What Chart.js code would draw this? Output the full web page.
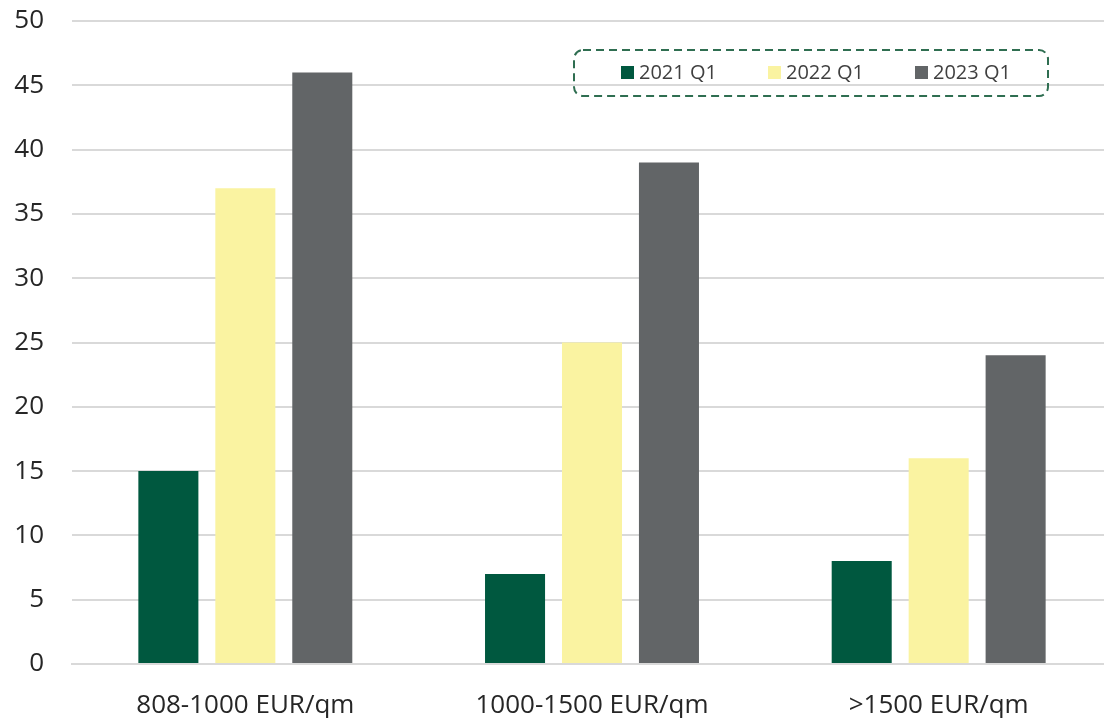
<!DOCTYPE html>
<html>
<head>
<meta charset="utf-8">
<script src="https://cdn.jsdelivr.net/npm/chart.js@4/dist/chart.umd.min.js"></script>
<style>
html,body{margin:0;padding:0;background:#fff;overflow:hidden;}
#wrap{width:1112px;height:718px;position:relative;}
</style>
</head>
<body>
<div id="wrap"><canvas id="c"></canvas></div>
<script>
const categories = ["808-1000 EUR/qm", "1000-1500 EUR/qm", ">1500 EUR/qm"];
const seriesLabels = ["2021 Q1", "2022 Q1", "2023 Q1"];
const values2021 = [15, 7, 8];
const values2022 = [37, 25, 16];
const values2023 = [46, 39, 24];
const yTicks = [0, 5, 10, 15, 20, 25, 30, 35, 40, 45, 50];

const colors = ["#00583f", "#faf3a1", "#626567"];
const FONT = "'Open Sans', 'DejaVu Sans', sans-serif";

const boxLegend = {
  id: 'boxLegend',
  afterDraw(chart) {
    const ctx = chart.ctx;
    const x = 574, y = 50, w = 474, h = 46, r = 9;
    ctx.save();
    ctx.setLineDash([8, 5]);
    ctx.lineWidth = 2;
    ctx.strokeStyle = '#2f6e51';
    ctx.beginPath();
    ctx.roundRect(x, y, w, h, r);
    ctx.stroke();
    ctx.setLineDash([]);
    ctx.font = "20px " + FONT;
    ctx.textBaseline = 'middle';
    const starts = [621, 768, 915];
    chart.data.datasets.forEach((ds, i) => {
      ctx.fillStyle = ds.backgroundColor;
      ctx.fillRect(starts[i], 66, 13, 13);
      ctx.fillStyle = '#404040';
      ctx.fillText(ds.label, starts[i] + 18, 73);
    });
    ctx.restore();
  }
};

new Chart(document.getElementById('c'), {
  type: 'bar',
  data: {
    labels: categories,
    datasets: [
      { label: seriesLabels[0], data: values2021, backgroundColor: colors[0] },
      { label: seriesLabels[1], data: values2022, backgroundColor: colors[1] },
      { label: seriesLabels[2], data: values2023, backgroundColor: colors[2] }
    ]
  },
  options: {
    responsive: true,
    maintainAspectRatio: false,
    animation: false,
    devicePixelRatio: 1,
    layout: { padding: { top: 21, right: 0, left: 0, bottom: 0 } },
    datasets: { bar: { categoryPercentage: 0.666, barPercentage: 0.78 } },
    plugins: { legend: { display: false }, tooltip: { enabled: false } },
    scales: {
      x: {
        grid: { display: false },
        border: { color: '#d9d9d9', width: 2 },
        afterFit(axis) { axis.height = 54; axis.paddingLeft = 0; axis.paddingRight = 0; },
        ticks: { color: '#262626', font: { family: FONT, size: 26 }, padding: 18 }
      },
      y: {
        min: 0, max: 50,
        afterFit(axis) { axis.width = 72; axis.paddingTop = 0; axis.paddingBottom = 0; },
        afterBuildTicks(axis) { axis.ticks = yTicks.map(v => ({ value: v })); },
        grid: { color: '#d9d9d9', lineWidth: 2, drawTicks: false },
        border: { display: false },
        ticks: { color: '#262626', font: { family: FONT, size: 26 }, padding: 28 }
      }
    }
  },
  plugins: [boxLegend]
});
</script>
</body>
</html>
